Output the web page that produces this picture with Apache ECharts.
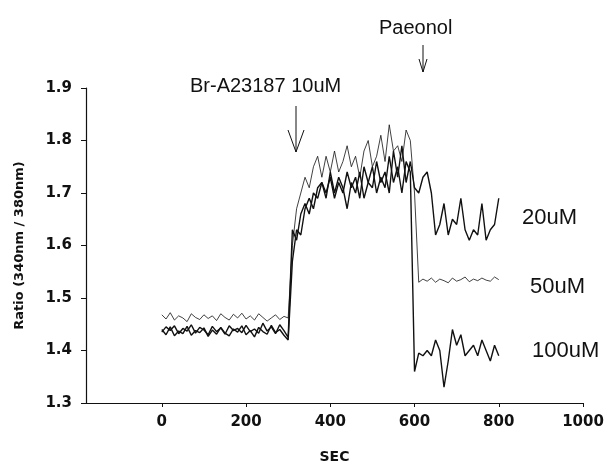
<!DOCTYPE html>
<html lang="en">
<head>
<meta charset="UTF-8">
<title>Ratio (340nm / 380nm)</title>
<script src="https://cdn.jsdelivr.net/npm/echarts@6/dist/echarts.min.js"></script>
<style>
    html, body { margin: 0; padding: 0; background: #fff; }
    #main { width: 608px; height: 464px; }
</style>
</head>
<body>
<div id="main"></div>
<script>
// readings every 10 s
var sec = [
    0, 10, 20, 30, 40, 50, 60, 70, 80, 90,
    100, 110, 120, 130, 140, 150, 160, 170, 180, 190,
    200, 210, 220, 230, 240, 250, 260, 270, 280, 290,
    300, 310, 320, 330, 340, 350, 360, 370, 380, 390,
    400, 410, 420, 430, 440, 450, 460, 470, 480, 490,
    500, 510, 520, 530, 540, 550, 560, 570, 580, 590,
    600, 610, 620, 630, 640, 650, 660, 670, 680, 690,
    700, 710, 720, 730, 740, 750, 760, 770, 780, 790,
    800
];

// 340/380 ratio, one array per Paeonol dose
var ratio20 = [
    1.435, 1.445, 1.438, 1.447, 1.432, 1.442, 1.437, 1.449, 1.433, 1.444,
    1.439, 1.430, 1.446, 1.436, 1.443, 1.431, 1.447, 1.438, 1.442, 1.434,
    1.448, 1.436, 1.441, 1.433, 1.452, 1.437, 1.445, 1.432, 1.449, 1.438,
    1.425,
    1.63, 1.61, 1.66, 1.68, 1.66, 1.70, 1.69, 1.72, 1.70, 1.73,
    1.69, 1.72, 1.70, 1.74, 1.71, 1.73, 1.69, 1.75, 1.72, 1.71,
    1.76, 1.72, 1.74, 1.70, 1.78, 1.73, 1.79, 1.72, 1.76,
    1.71, 1.70, 1.73, 1.74, 1.70, 1.62, 1.64, 1.68, 1.62, 1.65,
    1.64, 1.69, 1.63, 1.61, 1.63, 1.62, 1.68, 1.61, 1.63, 1.64,
    1.69
];
var ratio50 = [
    1.468, 1.460, 1.472, 1.458, 1.466, 1.462, 1.455, 1.470, 1.463, 1.459,
    1.468, 1.461, 1.466, 1.457, 1.470, 1.463, 1.458, 1.469, 1.462, 1.471,
    1.460, 1.466, 1.458, 1.470, 1.463, 1.456, 1.462, 1.468, 1.459, 1.465,
    1.462,
    1.60, 1.67, 1.70, 1.73, 1.71, 1.75, 1.77, 1.73, 1.77, 1.74,
    1.78, 1.74, 1.76, 1.79, 1.75, 1.77, 1.73, 1.78, 1.80, 1.75,
    1.77, 1.81, 1.76, 1.83, 1.78, 1.79, 1.76, 1.82, 1.80,
    1.70, 1.530, 1.536, 1.532, 1.538, 1.530, 1.536, 1.533, 1.529, 1.538,
    1.532, 1.535, 1.540, 1.531, 1.536, 1.533, 1.538, 1.534, 1.532, 1.540,
    1.535
];
var ratio100 = [
    1.440, 1.430, 1.445, 1.428, 1.437, 1.432, 1.446, 1.429, 1.438, 1.434,
    1.443, 1.427, 1.439, 1.431, 1.444, 1.433, 1.428, 1.441, 1.435, 1.447,
    1.430, 1.438, 1.426, 1.444, 1.436, 1.431, 1.448, 1.434, 1.440, 1.429,
    1.420,
    1.57, 1.63, 1.62, 1.67, 1.69, 1.67, 1.71, 1.72, 1.69, 1.74,
    1.70, 1.73, 1.71, 1.67, 1.72, 1.70, 1.74, 1.69, 1.72, 1.75,
    1.70, 1.73, 1.71, 1.77, 1.72, 1.75, 1.70, 1.76, 1.74,
    1.36, 1.395, 1.39, 1.40, 1.39, 1.42, 1.40, 1.33, 1.38, 1.44,
    1.41, 1.43, 1.39, 1.40, 1.41, 1.39, 1.42, 1.40, 1.38, 1.41,
    1.39
];

var xTicks = [0, 200, 400, 600, 800, 1000];

function pairs(vals) {
    var out = [];
    for (var i = 0; i < vals.length; i++) out.push([sec[i], vals[i]]);
    return out;
}

var font = 'DejaVu Sans';
var noteFont = 'Liberation Sans';
var ink = '#111';

function note(txt, x, y, size) {
    return {
        type: 'text', x: x, y: y,
        style: { text: txt, fontFamily: noteFont, fontSize: size, fill: ink, align: 'left', verticalAlign: 'middle' }
    };
}

var myChart = echarts.init(document.getElementById('main'));
myChart.setOption({
    animation: false,
    backgroundColor: '#fff',
    grid: { left: 86, right: 25, top: 88, bottom: 61, outerBoundsMode: 'none' },
    xAxis: {
        type: 'value',
        min: -180,
        max: 1000,
        name: 'SEC',
        nameLocation: 'middle',
        nameGap: 54,
        nameTextStyle: { fontFamily: font, fontWeight: 'bold', fontSize: 14, color: ink, verticalAlign: 'middle' },
        axisLine: { lineStyle: { color: ink, width: 1.2 } },
        axisTick: { length: 4, customValues: xTicks, lineStyle: { color: ink } },
        axisLabel: {
            customValues: xTicks, margin: 12, fontFamily: font, fontWeight: 'bold', fontSize: 15, color: ink,
            formatter: function (v) { return String(v); }
        },
        splitLine: { show: false }
    },
    yAxis: {
        type: 'value',
        min: 1.3,
        max: 1.9,
        interval: 0.1,
        name: 'Ratio (340nm / 380nm)',
        nameLocation: 'middle',
        nameGap: 66,
        nameTextStyle: { fontFamily: font, fontWeight: 'bold', fontSize: 13, color: ink, verticalAlign: 'middle' },
        axisLine: { show: true, onZero: false, lineStyle: { color: ink, width: 1.2 } },
        axisTick: { show: true, length: 5, lineStyle: { color: ink } },
        axisLabel: {
            margin: 14, fontFamily: font, fontWeight: 'bold', fontSize: 15, color: ink,
            formatter: function (v) { return v.toFixed(1); }
        },
        splitLine: { show: false }
    },
    series: [
        { name: '20uM', type: 'line', data: pairs(ratio20), showSymbol: false, lineStyle: { color: ink, width: 1.4 } },
        { name: '50uM', type: 'line', data: pairs(ratio50), showSymbol: false, lineStyle: { color: ink, width: 0.8 } },
        { name: '100uM', type: 'line', data: pairs(ratio100), showSymbol: false, lineStyle: { color: ink, width: 1.4 } }
    ],
    graphic: [
        note('Br-A23187 10uM', 190, 86, 20),
        { type: 'line', shape: { x1: 296, y1: 106, x2: 296, y2: 152 }, style: { stroke: ink, lineWidth: 1 } },
        { type: 'polyline', shape: { points: [[288, 130], [296, 152], [304, 130]] }, style: { stroke: ink, fill: null, lineWidth: 1 } },
        note('Paeonol', 379, 28, 20),
        { type: 'line', shape: { x1: 423, y1: 45, x2: 423, y2: 72 }, style: { stroke: ink, lineWidth: 1 } },
        { type: 'polyline', shape: { points: [[419, 59], [423, 72], [427, 59]] }, style: { stroke: ink, fill: null, lineWidth: 1 } },
        note('20uM', 522, 218, 22),
        note('50uM', 530, 287, 22),
        note('100uM', 532, 351, 22)
    ]
});
</script>
</body>
</html>
